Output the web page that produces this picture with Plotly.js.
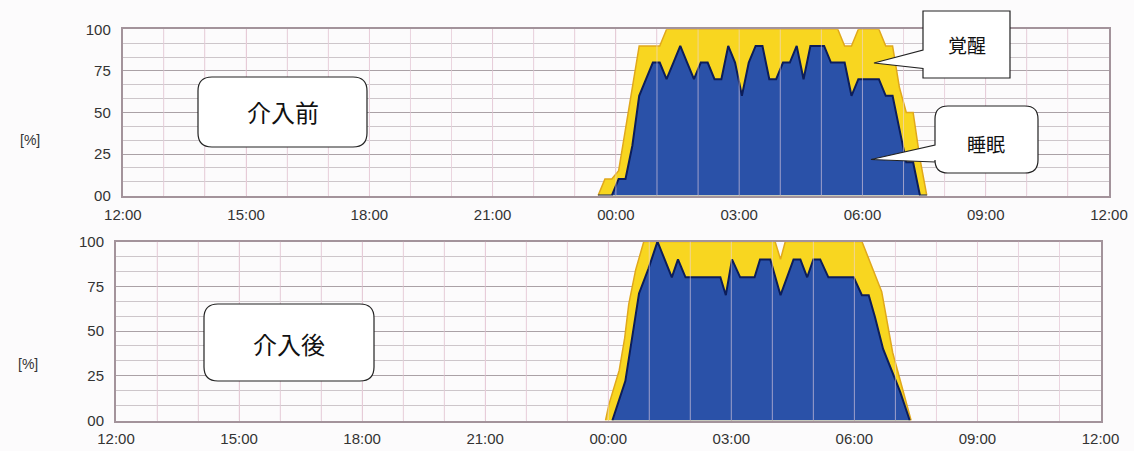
<!DOCTYPE html>
<html><head><meta charset="utf-8">
<script src="https://cdn.plot.ly/plotly-3.0.1.min.js"></script>
<style>html,body{margin:0;padding:0;background:#fcfbfc;}#chart{width:1134px;height:451px;}</style>
</head><body><div id="chart"></div>
<script>
// ---- Data: 介入前 (before intervention), 10-minute bins ----
const beforeTimes = ['23:34','23:44','23:54','00:04','00:14','00:24','00:34','00:44','00:54','01:04',
  '01:14','01:24','01:34','01:44','01:54','02:04','02:14','02:24','02:34','02:44',
  '02:54','03:04','03:14','03:24','03:34','03:44','03:54','04:04','04:14','04:24',
  '04:34','04:44','04:54','05:04','05:14','05:24','05:34','05:44','05:54','06:04',
  '06:14','06:24','06:34','06:44','06:54','07:04','07:14','07:24','07:34'];
const beforeAwakeTotal = [0,10,10,15,40,65,90,90,90,90,
  100,100,100,100,100,100,100,100,100,100,
  100,100,100,100,100,100,100,100,100,100,
  100,100,100,100,100,100,90,90,100,100,
  100,100,90,90,65,50,50,22,0];
const beforeSleep = [0,0,0,10,10,30,60,70,80,80,
  70,80,90,80,70,80,80,70,70,90,
  80,60,80,90,90,70,70,80,80,90,
  70,90,90,90,80,80,80,60,70,70,
  70,70,60,60,40,20,20,0,0];

// ---- Data: 介入後 (after intervention) ----
const afterAwakeTimes = ['23:56','00:01','00:16','00:24','00:30','00:40','00:52','04:04','04:12','04:19','06:11','06:40','06:56','07:23'];
const afterAwakeTotal = [0,9,28,46,65,84,100,100,90,100,100,72,38,0];
const afterSleepTimes = ['00:06','00:25','00:45','00:59','01:12','01:33','01:42','01:53','02:44','02:52',
  '03:01','03:13','03:34','03:42','03:57','04:12','04:31','04:41','04:51','05:00',
  '05:10','05:22','05:59','06:11','06:21','06:30','06:42','06:55','07:07','07:21'];
const afterSleep = [0,22,71,85,100,80,90,80,80,70,
  90,80,80,90,90,70,90,90,80,90,
  90,80,80,70,70,58,40,28,16,0];

const yTickLabels = ['00','25','50','75','100'];
const panelLabels = ['介入前','介入後'];
const calloutLabels = ['覚醒','睡眠'];

// ---- helpers ----
const W = 1134, H = 451;
const px = x => x / W, py = y => 1 - y / H;
const P = (x, y) => px(x).toFixed(5) + ',' + py(y).toFixed(5);
function toDate(t){ const h = parseInt(t.slice(0,2),10); return (h >= 12 ? '2024-01-01 ' : '2024-01-02 ') + t; }

function roundRect(x0,y0,x1,y1,r){
  return 'M'+P(x0+r,y0)+' L'+P(x1-r,y0)+' Q'+P(x1,y0)+' '+P(x1,y0+r)+
    ' L'+P(x1,y1-r)+' Q'+P(x1,y1)+' '+P(x1-r,y1)+' L'+P(x0+r,y1)+
    ' Q'+P(x0,y1)+' '+P(x0,y1-r)+' L'+P(x0,y0+r)+' Q'+P(x0,y0)+' '+P(x0+r,y0)+' Z';
}

const YEL = '#f8d620', YEL_LINE = '#e0a81c', BLU = '#2a51a8', BLU_LINE = '#0c1d5a';

const traces = [
  {x: beforeTimes.map(toDate), y: beforeAwakeTotal, xaxis:'x', yaxis:'y', type:'scatter', mode:'lines',
   fill:'tozeroy', fillcolor:YEL, line:{color:YEL_LINE, width:1.5}, hoverinfo:'skip', showlegend:false},
  {x: beforeTimes.map(toDate), y: beforeSleep, xaxis:'x', yaxis:'y', type:'scatter', mode:'lines',
   fill:'tozeroy', fillcolor:BLU, line:{color:BLU_LINE, width:2}, hoverinfo:'skip', showlegend:false},
  {x: afterAwakeTimes.map(toDate), y: afterAwakeTotal, xaxis:'x2', yaxis:'y2', type:'scatter', mode:'lines',
   fill:'tozeroy', fillcolor:YEL, line:{color:YEL_LINE, width:1.5}, hoverinfo:'skip', showlegend:false},
  {x: afterSleepTimes.map(toDate), y: afterSleep, xaxis:'x2', yaxis:'y2', type:'scatter', mode:'lines',
   fill:'tozeroy', fillcolor:BLU, line:{color:BLU_LINE, width:2}, hoverinfo:'skip', showlegend:false}
];

const tickFont = {family:'Liberation Sans, Arial, sans-serif', size:15, color:'#333'};
function xAxis(domain, anchor, ticklen){
  return {domain:domain, anchor:anchor, type:'date',
    range:['2024-01-01 12:00','2024-01-02 12:00'], tick0:'2024-01-01 12:00', dtick:10800000,
    tickformat:'%H:%M', tickfont:tickFont, ticks:'outside', ticklen:ticklen, tickcolor:'rgba(0,0,0,0)',
    showgrid:true, gridcolor:'#e2c6d1', gridwidth:1,
    minor:{dtick:3600000, showgrid:true, gridcolor:'#e8d3db', gridwidth:1, ticks:''},
    showline:true, mirror:true, linecolor:'#a3939b', linewidth:2, zeroline:false, fixedrange:true};
}
function yAxis(domain, anchor){
  return {domain:domain, anchor:anchor, range:[0,100], tickmode:'linear', tick0:0, dtick:25,
    tickformat:'02d', tickfont:tickFont, ticks:'outside', ticklen:7, tickcolor:'rgba(0,0,0,0)',
    showgrid:true, gridcolor:'#aaa1a6', gridwidth:1,
    minor:{tickmode:'linear', tick0:0, dtick:25/3, showgrid:true, gridcolor:'#cdc6ca', gridwidth:1, ticks:''},
    showline:true, mirror:true, linecolor:'#a3939b', linewidth:2, zeroline:false, fixedrange:true};
}

const shapes = [];
// hour lines showing through the filled areas
['x','x2'].forEach((xr,i) => {
  const yr = i === 0 ? 'y' : 'y2';
  for (let h = 1; h < 24; h++){
    const d = new Date(Date.UTC(2024,0,1,12+h,0));
    const s = d.toISOString().slice(0,16).replace('T',' ');
    shapes.push({type:'line', xref:xr, yref:yr, x0:s, x1:s, y0:0, y1:100, layer:'above',
      line:{color:'rgba(236,214,226,0.6)', width:1}});
  }
});
// panel label boxes
shapes.push({type:'path', xref:'paper', yref:'paper', path:roundRect(198,77,367,147,14),
  fillcolor:'#ffffff', line:{color:'#222', width:1.2}, layer:'above'});
shapes.push({type:'path', xref:'paper', yref:'paper', path:roundRect(204,304,374,381,14),
  fillcolor:'#ffffff', line:{color:'#222', width:1.2}, layer:'above'});
// 覚醒 callout (square box with pointer)
shapes.push({type:'path', xref:'paper', yref:'paper',
  path:'M'+P(923,11)+' L'+P(1010,11)+' L'+P(1010,78)+' L'+P(923,78)+' L'+P(923,68.5)+' L'+P(874,63)+' L'+P(923,50)+' Z',
  fillcolor:'#ffffff', line:{color:'#222', width:1.2}, layer:'above'});
// 睡眠 callout (rounded box with pointer)
(function(){
  const x0=935,y0=106,x1=1038,y1=173,r=13;
  const path = 'M'+P(x0+r,y0)+' L'+P(x1-r,y0)+' Q'+P(x1,y0)+' '+P(x1,y0+r)+
    ' L'+P(x1,y1-r)+' Q'+P(x1,y1)+' '+P(x1-r,y1)+' L'+P(x0+r,y1)+
    ' Q'+P(x0,y1)+' '+P(x0,y1-r)+' L'+P(x0,162)+' L'+P(871,159.5)+' L'+P(x0,145)+
    ' L'+P(x0,y0+r)+' Q'+P(x0,y0)+' '+P(x0+r,y0)+' Z';
  shapes.push({type:'path', xref:'paper', yref:'paper', path:path,
    fillcolor:'#ffffff', line:{color:'#222', width:1.2}, layer:'above'});
})();

const cjk = 'Noto Sans CJK JP, sans-serif';
const annotations = [
  {xref:'paper', yref:'paper', x:px(282.5), y:py(112), text:panelLabels[0], showarrow:false,
   font:{family:cjk, size:24, color:'#111'}, xanchor:'center', yanchor:'middle'},
  {xref:'paper', yref:'paper', x:px(289), y:py(343), text:panelLabels[1], showarrow:false,
   font:{family:cjk, size:24, color:'#111'}, xanchor:'center', yanchor:'middle'},
  {xref:'paper', yref:'paper', x:px(966.5), y:py(45), text:calloutLabels[0], showarrow:false,
   font:{family:cjk, size:19, color:'#111'}, xanchor:'center', yanchor:'middle'},
  {xref:'paper', yref:'paper', x:px(986), y:py(143), text:calloutLabels[1], showarrow:false,
   font:{family:cjk, size:19, color:'#111'}, xanchor:'center', yanchor:'middle'},
  {xref:'paper', yref:'paper', x:px(30), y:py(140), text:'[%]', showarrow:false,
   font:{family:'Liberation Sans, Arial, sans-serif', size:14, color:'#333'}, xanchor:'center', yanchor:'middle'},
  {xref:'paper', yref:'paper', x:px(28), y:py(364), text:'[%]', showarrow:false,
   font:{family:'Liberation Sans, Arial, sans-serif', size:14, color:'#333'}, xanchor:'center', yanchor:'middle'}
];

const layout = {
  width:W, height:H, margin:{l:0,r:0,t:0,b:0},
  paper_bgcolor:'#fcfbfc', plot_bgcolor:'#fcfbfc',
  xaxis: xAxis([px(122.8), px(1109)], 'y', 4),
  yaxis: yAxis([py(195.6), py(29.3)], 'x'),
  xaxis2: xAxis([px(116), px(1100.5)], 'y2', 3),
  yaxis2: yAxis([py(420.5), py(241.5)], 'x2'),
  shapes: shapes, annotations: annotations, showlegend:false
};

Plotly.newPlot('chart', traces, layout, {displayModeBar:false, staticPlot:true});
</script></body></html>
